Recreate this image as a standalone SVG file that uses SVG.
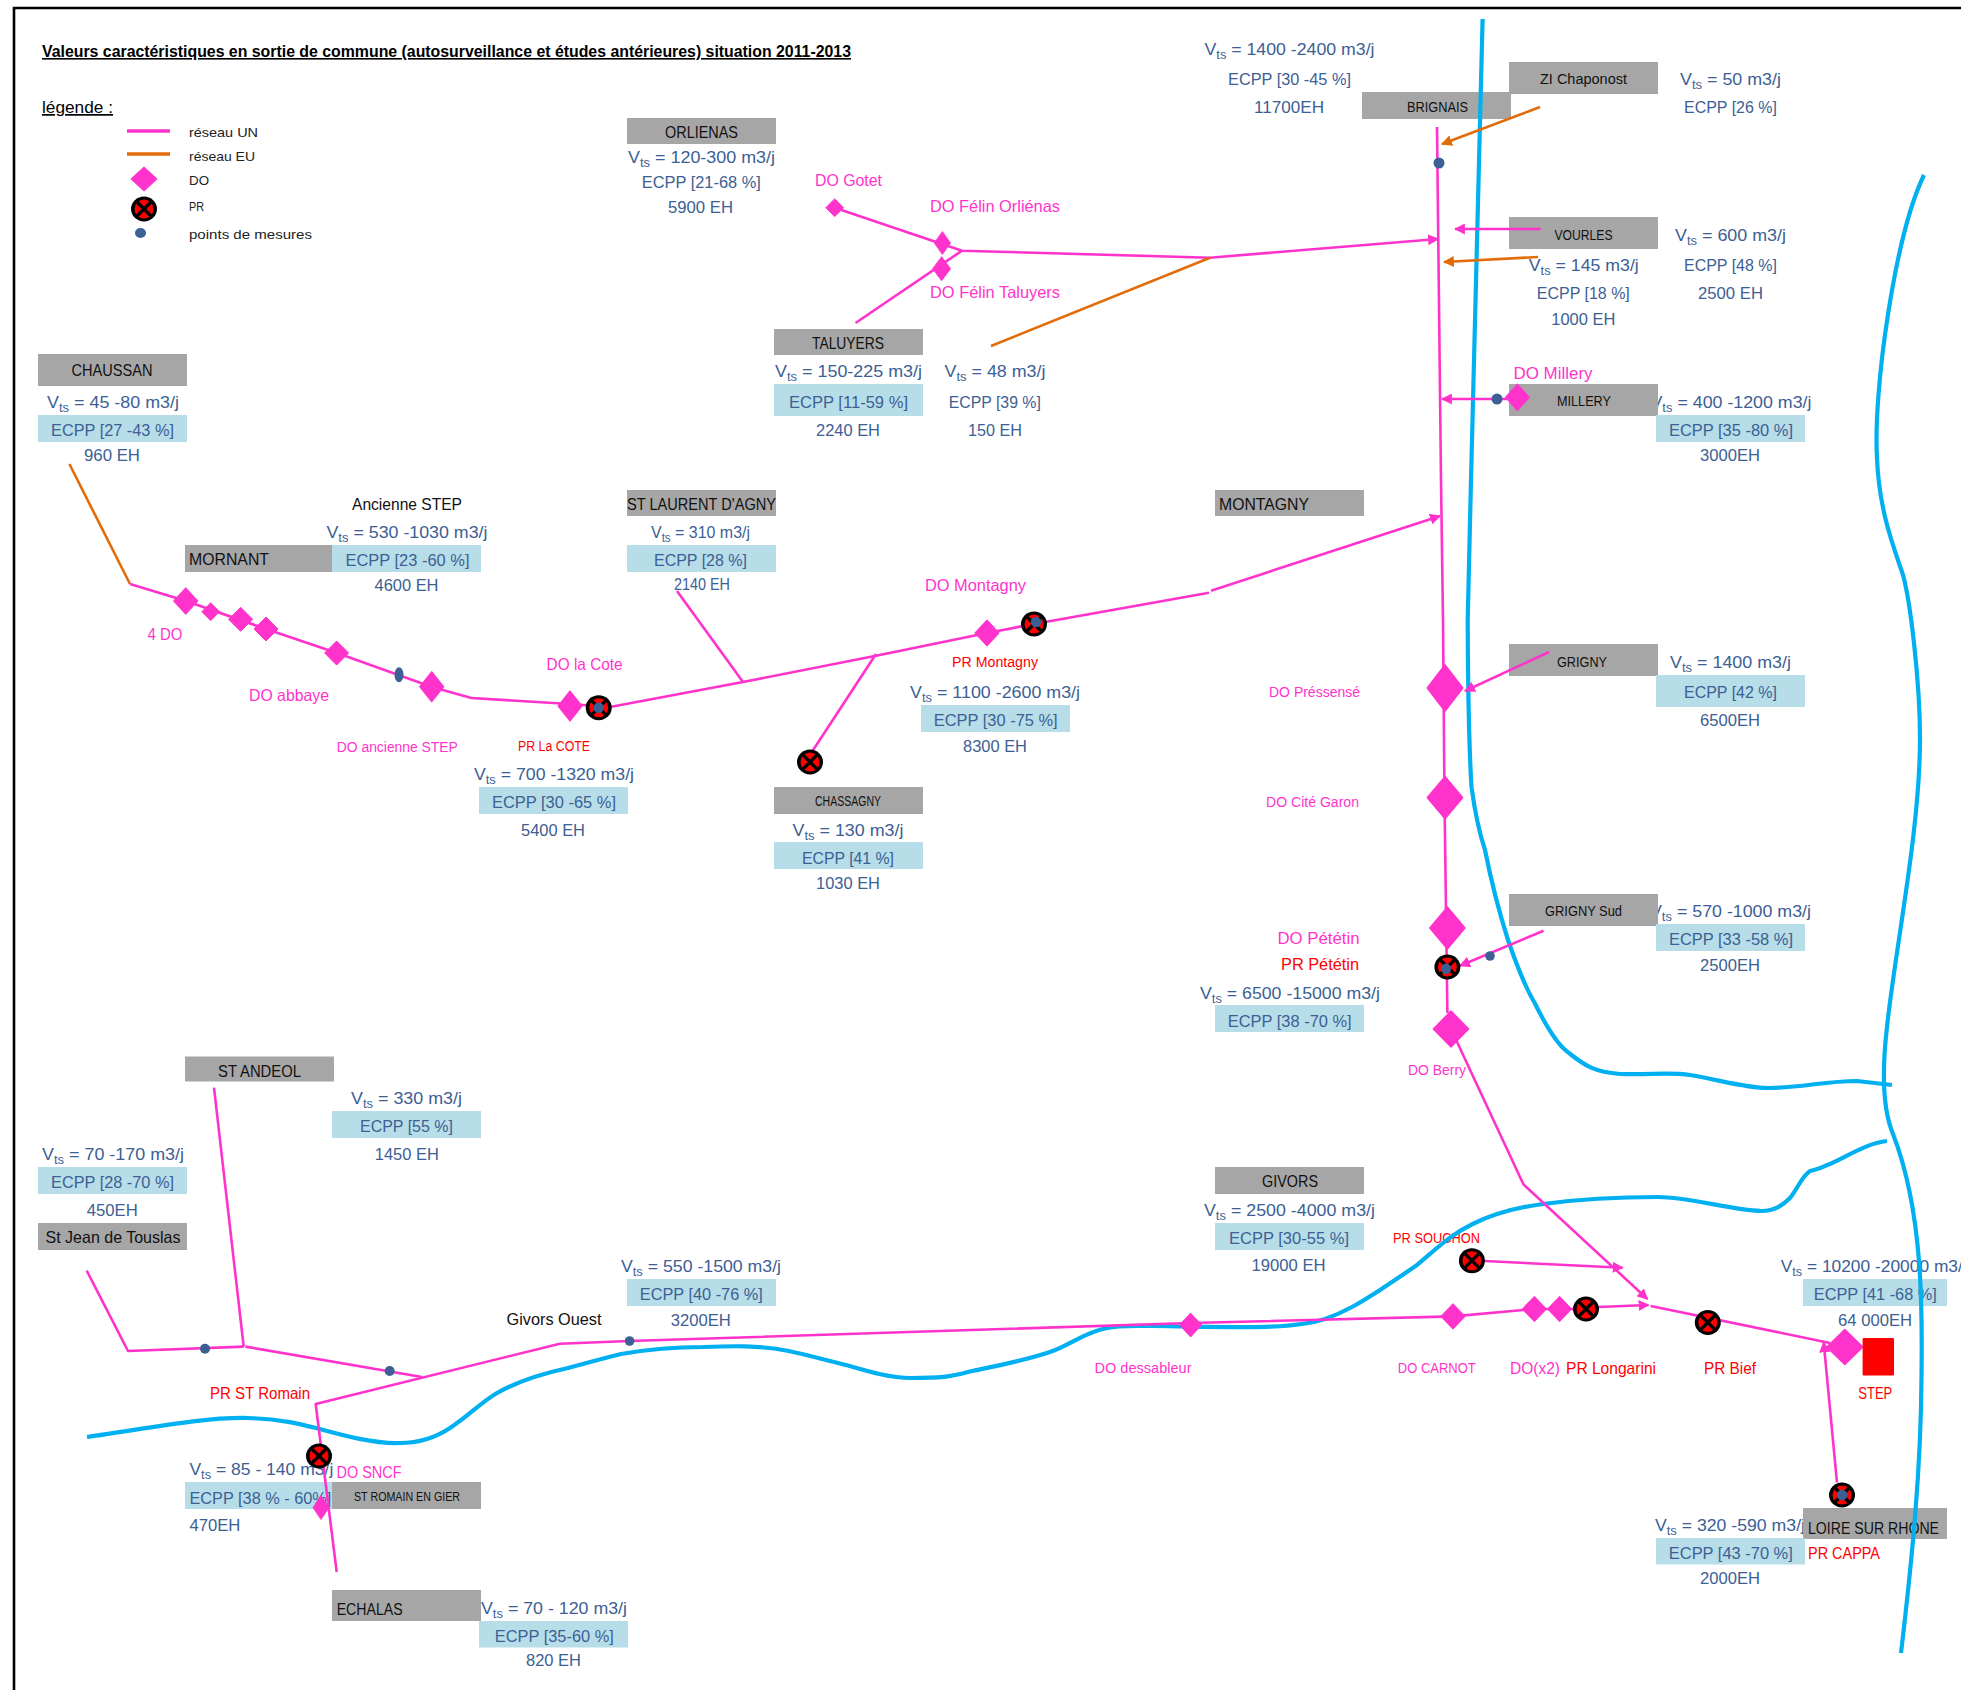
<svg xmlns="http://www.w3.org/2000/svg" width="1961" height="1690" viewBox="0 0 1961 1690">
<style>
text{font-family:"Liberation Sans",Arial,sans-serif;text-anchor:middle;font-size:16.5px}
.v{fill:#3C6094}
.k{fill:#111}
.m{fill:#FF33CC}
.r{fill:#FF0000}
.l{text-anchor:start}
.s{font-size:14px}
.lg{font-size:13px;fill:#222;text-anchor:start}
.g{fill:#A6A6A6}
.b{fill:#B7DDE8}
.sub{font-size:12px}
.un{fill:none;stroke:#FF33CC;stroke-width:2.6;stroke-linejoin:round}
.eu{fill:none;stroke:#E36C0A;stroke-width:2.6}
.riv{fill:none;stroke:#00B0F0;stroke-width:4.2;stroke-linecap:butt}
.do{fill:#FF33CC}
.pt{fill:#3C6094}
</style>
<defs>
<marker id="am" viewBox="0 0 10 10" refX="9" refY="5" markerUnits="userSpaceOnUse" markerWidth="11" markerHeight="11" orient="auto"><path d="M0 0L10 5L0 10z" fill="#FF33CC"/></marker>
<marker id="ao" viewBox="0 0 10 10" refX="9" refY="5" markerUnits="userSpaceOnUse" markerWidth="11" markerHeight="11" orient="auto"><path d="M0 0L10 5L0 10z" fill="#E36C0A"/></marker>
<polygon id="do" points="-12,0 0,-12 12,0 0,12" class="do" stroke="#FF33CC" stroke-width="1" stroke-linejoin="round"/>
<g id="pr"><ellipse rx="13" ry="12.5" fill="#000"/><circle r="9.5" fill="#FF0000"/><path d="M-7-7L7 7M7-7L-7 7" stroke="#000" stroke-width="3.2"/></g>
<g id="prd"><use href="#pr"/><circle r="5.2" fill="#3C6094"/></g>
</defs>
<g id="frame"><path d="M14 1690V8H1961" fill="none" stroke="#000" stroke-width="2.6"/></g>
<g id="title"><text class="l" x="42" y="57" font-weight="700" fill="#000" text-decoration="underline" textLength="809" lengthAdjust="spacingAndGlyphs" style="font-size:16px">Valeurs caractéristiques en sortie de commune (autosurveillance et études antérieures) situation 2011-2013</text></g>
<g id="legend">
<text class="l" x="42" y="113" fill="#000" text-decoration="underline" textLength="71" lengthAdjust="spacingAndGlyphs" style="font-size:17px">légende :</text>
<path d="M127 131H170" stroke="#FF33CC" stroke-width="3.5"/>
<path d="M127 154H170" stroke="#E36C0A" stroke-width="3.5"/>
<use href="#do" transform="translate(144 179) scale(1.08 1)"/>
<use href="#pr" x="144" y="209"/>
<ellipse class="pt" cx="140.500" cy="233" rx="5.500" ry="5"/>
<text class="lg" x="189" y="137" textLength="69" lengthAdjust="spacingAndGlyphs">réseau UN</text>
<text class="lg" x="189" y="161" textLength="66" lengthAdjust="spacingAndGlyphs">réseau EU</text>
<text class="lg" x="189" y="185" textLength="20" lengthAdjust="spacingAndGlyphs">DO</text>
<text class="lg" x="189" y="211" textLength="15" lengthAdjust="spacingAndGlyphs">PR</text>
<text class="lg" x="189" y="239" textLength="123" lengthAdjust="spacingAndGlyphs">points de mesures</text>
</g>

<g id="chaussan">
<rect class="g" x="38" y="354" width="149" height="32"/><rect class="b" x="38" y="415" width="149" height="27"/>
<text class="k" x="112" y="376" textLength="81" lengthAdjust="spacingAndGlyphs">CHAUSSAN</text>
<text class="v" x="113" y="408" textLength="132" lengthAdjust="spacingAndGlyphs">V<tspan class="sub" dy="4">ts</tspan><tspan dy="-4"> = 45 -80 m3/j</tspan></text>
<text class="v" x="112.500" y="436" textLength="123" lengthAdjust="spacingAndGlyphs">ECPP [27 -43 %]</text>
<text class="v" x="112" y="461" textLength="56" lengthAdjust="spacingAndGlyphs">960 EH</text>
</g>
<g id="mornant">
<rect class="g" x="185" y="545" width="147" height="27"/><rect class="b" x="332" y="545" width="149" height="27"/>
<text class="k l" x="189" y="565" textLength="80" lengthAdjust="spacingAndGlyphs">MORNANT</text>
<text class="k" x="407" y="509.700" textLength="110" lengthAdjust="spacingAndGlyphs">Ancienne STEP</text>
<text class="v" x="407" y="538" textLength="161" lengthAdjust="spacingAndGlyphs">V<tspan class="sub" dy="4">ts</tspan><tspan dy="-4"> = 530 -1030 m3/j</tspan></text>
<text class="v" x="407.500" y="565.500" textLength="124" lengthAdjust="spacingAndGlyphs">ECPP [23 -60 %]</text>
<text class="v" x="406.500" y="591" textLength="64" lengthAdjust="spacingAndGlyphs">4600 EH</text>
</g>
<g id="st-laurent">
<rect class="g" x="627" y="490" width="149" height="26"/><rect class="b" x="627" y="545" width="149" height="27"/>
<text class="k" x="701.500" y="509.700" textLength="149" lengthAdjust="spacingAndGlyphs">ST LAURENT D'AGNY</text>
<text class="v" x="700.500" y="537.700" textLength="99" lengthAdjust="spacingAndGlyphs">V<tspan class="sub" dy="4">ts</tspan><tspan dy="-4"> = 310 m3/j</tspan></text>
<text class="v" x="700.500" y="565.500" textLength="93" lengthAdjust="spacingAndGlyphs">ECPP [28 %]</text>
<text class="v" x="702" y="590" textLength="56" lengthAdjust="spacingAndGlyphs">2140 EH</text>
</g>
<g id="la-cote">
<rect class="b" x="479" y="787" width="149" height="27"/>
<text class="v" x="554" y="780" textLength="160" lengthAdjust="spacingAndGlyphs">V<tspan class="sub" dy="4">ts</tspan><tspan dy="-4"> = 700 -1320 m3/j</tspan></text>
<text class="v" x="554" y="808" textLength="124" lengthAdjust="spacingAndGlyphs">ECPP [30 -65 %]</text>
<text class="v" x="553" y="836" textLength="64" lengthAdjust="spacingAndGlyphs">5400 EH</text>
</g>
<g id="orlienas">
<rect class="g" x="627" y="118" width="149" height="26"/>
<text class="k" x="701.500" y="138" textLength="73" lengthAdjust="spacingAndGlyphs">ORLIENAS</text>
<text class="v" x="701.500" y="163" textLength="147" lengthAdjust="spacingAndGlyphs">V<tspan class="sub" dy="4">ts</tspan><tspan dy="-4"> = 120-300 m3/j</tspan></text>
<text class="v" x="701.300" y="187.500" textLength="119" lengthAdjust="spacingAndGlyphs">ECPP [21-68 %]</text>
<text class="v" x="700.500" y="213" textLength="65" lengthAdjust="spacingAndGlyphs">5900 EH</text>
</g>
<g id="taluyers">
<rect class="g" x="774" y="329" width="149" height="26"/><rect class="b" x="774" y="384" width="149" height="32"/>
<text class="k" x="848" y="349" textLength="72" lengthAdjust="spacingAndGlyphs">TALUYERS</text>
<text class="v" x="848.500" y="377" textLength="147" lengthAdjust="spacingAndGlyphs">V<tspan class="sub" dy="4">ts</tspan><tspan dy="-4"> = 150-225 m3/j</tspan></text>
<text class="v" x="848.500" y="408" textLength="119" lengthAdjust="spacingAndGlyphs">ECPP [11-59 %]</text>
<text class="v" x="848" y="436" textLength="64" lengthAdjust="spacingAndGlyphs">2240 EH</text>
<text class="v" x="995" y="377" textLength="101" lengthAdjust="spacingAndGlyphs">V<tspan class="sub" dy="4">ts</tspan><tspan dy="-4"> = 48 m3/j</tspan></text>
<text class="v" x="994.800" y="408" textLength="92" lengthAdjust="spacingAndGlyphs">ECPP [39 %]</text>
<text class="v" x="995" y="436" textLength="54" lengthAdjust="spacingAndGlyphs">150 EH</text>
</g>
<g id="montagny">
<rect class="g" x="1215" y="490" width="149" height="26"/><rect class="b" x="921" y="705" width="149" height="27"/>
<text class="k l" x="1219" y="510" textLength="90" lengthAdjust="spacingAndGlyphs">MONTAGNY</text>
<text class="v" x="995" y="698" textLength="170" lengthAdjust="spacingAndGlyphs">V<tspan class="sub" dy="4">ts</tspan><tspan dy="-4"> = 1100 -2600 m3/j</tspan></text>
<text class="v" x="995.700" y="726" textLength="124" lengthAdjust="spacingAndGlyphs">ECPP [30 -75 %]</text>
<text class="v" x="995" y="752" textLength="64" lengthAdjust="spacingAndGlyphs">8300 EH</text>
</g>
<g id="chassagny">
<rect class="g" x="774" y="787" width="149" height="27"/><rect class="b" x="774" y="842" width="149" height="27"/>
<text class="k s" x="848" y="806" textLength="66" lengthAdjust="spacingAndGlyphs">CHASSAGNY</text>
<text class="v" x="848" y="836" textLength="111" lengthAdjust="spacingAndGlyphs">V<tspan class="sub" dy="4">ts</tspan><tspan dy="-4"> = 130 m3/j</tspan></text>
<text class="v" x="848" y="864" textLength="92" lengthAdjust="spacingAndGlyphs">ECPP [41 %]</text>
<text class="v" x="848" y="889" textLength="64" lengthAdjust="spacingAndGlyphs">1030 EH</text>
</g>
<g id="brignais">
<rect class="g" x="1362" y="92" width="149" height="27"/>
<text class="v" x="1289.500" y="55" textLength="170" lengthAdjust="spacingAndGlyphs">V<tspan class="sub" dy="4">ts</tspan><tspan dy="-4"> = 1400 -2400 m3/j</tspan></text>
<text class="v" x="1289.500" y="84.500" textLength="123" lengthAdjust="spacingAndGlyphs">ECPP [30 -45 %]</text>
<text class="v" x="1289" y="113" textLength="70" lengthAdjust="spacingAndGlyphs">11700EH</text>
<text class="k s" x="1437.500" y="111.700" textLength="61" lengthAdjust="spacingAndGlyphs">BRIGNAIS</text>
</g>
<g id="zi-chaponost">
<rect class="g" x="1509" y="62" width="149" height="32"/>
<text class="k s" x="1583.500" y="84" textLength="87" lengthAdjust="spacingAndGlyphs">ZI Chaponost</text>
<text class="v" x="1730.500" y="85" textLength="101" lengthAdjust="spacingAndGlyphs">V<tspan class="sub" dy="4">ts</tspan><tspan dy="-4"> = 50 m3/j</tspan></text>
<text class="v" x="1730.500" y="113" textLength="93" lengthAdjust="spacingAndGlyphs">ECPP [26 %]</text>
</g>
<g id="vourles">
<rect class="g" x="1509" y="217" width="149" height="32"/>
<text class="k s" x="1583.500" y="240" textLength="58" lengthAdjust="spacingAndGlyphs">VOURLES</text>
<text class="v" x="1730.500" y="241" textLength="111" lengthAdjust="spacingAndGlyphs">V<tspan class="sub" dy="4">ts</tspan><tspan dy="-4"> = 600 m3/j</tspan></text>
<text class="v" x="1730.500" y="271" textLength="93" lengthAdjust="spacingAndGlyphs">ECPP [48 %]</text>
<text class="v" x="1730.500" y="299" textLength="65" lengthAdjust="spacingAndGlyphs">2500 EH</text>
<text class="v" x="1583.800" y="271" textLength="110" lengthAdjust="spacingAndGlyphs">V<tspan class="sub" dy="4">ts</tspan><tspan dy="-4"> = 145 m3/j</tspan></text>
<text class="v" x="1583.300" y="299" textLength="93" lengthAdjust="spacingAndGlyphs">ECPP [18 %]</text>
<text class="v" x="1583.300" y="325" textLength="64" lengthAdjust="spacingAndGlyphs">1000 EH</text>
</g>
<g id="millery">
<text class="v" x="1731" y="408" textLength="161" lengthAdjust="spacingAndGlyphs">V<tspan class="sub" dy="4">ts</tspan><tspan dy="-4"> = 400 -1200 m3/j</tspan></text>
<rect class="g" x="1509" y="384" width="149" height="32"/><rect class="b" x="1656" y="415" width="149" height="27"/>
<text class="k s" x="1584" y="406" textLength="54" lengthAdjust="spacingAndGlyphs">MILLERY</text>
<text class="v" x="1731" y="436" textLength="124" lengthAdjust="spacingAndGlyphs">ECPP [35 -80 %]</text>
<text class="v" x="1730" y="461" textLength="60" lengthAdjust="spacingAndGlyphs">3000EH</text>
</g>
<g id="grigny">
<rect class="g" x="1509" y="644" width="149" height="32"/><rect class="b" x="1656" y="675" width="149" height="32"/>
<text class="k s" x="1582" y="667" textLength="50" lengthAdjust="spacingAndGlyphs">GRIGNY</text>
<text class="v" x="1730.500" y="668" textLength="121" lengthAdjust="spacingAndGlyphs">V<tspan class="sub" dy="4">ts</tspan><tspan dy="-4"> = 1400 m3/j</tspan></text>
<text class="v" x="1730.500" y="698" textLength="93" lengthAdjust="spacingAndGlyphs">ECPP [42 %]</text>
<text class="v" x="1730" y="726" textLength="60" lengthAdjust="spacingAndGlyphs">6500EH</text>
</g>
<g id="grigny-sud">
<text class="v" x="1730.500" y="917" textLength="161" lengthAdjust="spacingAndGlyphs">V<tspan class="sub" dy="4">ts</tspan><tspan dy="-4"> = 570 -1000 m3/j</tspan></text>
<rect class="g" x="1509" y="894" width="149" height="32"/><rect class="b" x="1656" y="924" width="149" height="27"/>
<text class="k s" x="1583.500" y="916" textLength="77" lengthAdjust="spacingAndGlyphs">GRIGNY Sud</text>
<text class="v" x="1731" y="945" textLength="124" lengthAdjust="spacingAndGlyphs">ECPP [33 -58 %]</text>
<text class="v" x="1730" y="970.700" textLength="60" lengthAdjust="spacingAndGlyphs">2500EH</text>
</g>
<g id="petetin-data">
<rect class="b" x="1215" y="1005" width="149" height="27"/>
<text class="v" x="1290" y="999" textLength="180" lengthAdjust="spacingAndGlyphs">V<tspan class="sub" dy="4">ts</tspan><tspan dy="-4"> = 6500 -15000 m3/j</tspan></text>
<text class="v" x="1289.700" y="1027" textLength="124" lengthAdjust="spacingAndGlyphs">ECPP [38 -70 %]</text>
</g>
<g id="givors">
<rect class="g" x="1215" y="1167" width="149" height="27"/><rect class="b" x="1215" y="1223" width="149" height="27"/>
<text class="k" x="1290" y="1187" textLength="56" lengthAdjust="spacingAndGlyphs">GIVORS</text>
<text class="v" x="1289.500" y="1216" textLength="171" lengthAdjust="spacingAndGlyphs">V<tspan class="sub" dy="4">ts</tspan><tspan dy="-4"> = 2500 -4000 m3/j</tspan></text>
<text class="v" x="1289" y="1243.500" textLength="120" lengthAdjust="spacingAndGlyphs">ECPP [30-55 %]</text>
<text class="v" x="1288.500" y="1271" textLength="74" lengthAdjust="spacingAndGlyphs">19000 EH</text>
</g>
<g id="givors-ouest">
<rect class="b" x="627" y="1279" width="149" height="27"/>
<text class="k" x="554" y="1325" textLength="95" lengthAdjust="spacingAndGlyphs">Givors Ouest</text>
<text class="v" x="701" y="1272" textLength="160" lengthAdjust="spacingAndGlyphs">V<tspan class="sub" dy="4">ts</tspan><tspan dy="-4"> = 550 -1500 m3/j</tspan></text>
<text class="v" x="701.300" y="1300" textLength="123" lengthAdjust="spacingAndGlyphs">ECPP [40 -76 %]</text>
<text class="v" x="700.800" y="1326" textLength="60" lengthAdjust="spacingAndGlyphs">3200EH</text>
</g>
<g id="st-andeol">
<rect class="g" x="185" y="1056.500" width="149" height="25"/><rect class="b" x="332" y="1111" width="149" height="27"/>
<text class="k" x="259.500" y="1077" textLength="83" lengthAdjust="spacingAndGlyphs">ST ANDEOL</text>
<text class="v" x="406.500" y="1104" textLength="111" lengthAdjust="spacingAndGlyphs">V<tspan class="sub" dy="4">ts</tspan><tspan dy="-4"> = 330 m3/j</tspan></text>
<text class="v" x="406.500" y="1132" textLength="93" lengthAdjust="spacingAndGlyphs">ECPP [55 %]</text>
<text class="v" x="406.800" y="1160" textLength="64" lengthAdjust="spacingAndGlyphs">1450 EH</text>
</g>
<g id="st-jean">
<rect class="b" x="38" y="1167" width="149" height="27"/><rect class="g" x="38" y="1223" width="149" height="27"/>
<text class="v" x="113" y="1160" textLength="142" lengthAdjust="spacingAndGlyphs">V<tspan class="sub" dy="4">ts</tspan><tspan dy="-4"> = 70 -170 m3/j</tspan></text>
<text class="v" x="112.500" y="1188" textLength="123" lengthAdjust="spacingAndGlyphs">ECPP [28 -70 %]</text>
<text class="v" x="112.300" y="1216" textLength="51" lengthAdjust="spacingAndGlyphs">450EH</text>
<text class="k" x="113" y="1243" textLength="135" lengthAdjust="spacingAndGlyphs">St Jean de Touslas</text>
</g>
<g id="st-romain">
<rect class="b" x="185" y="1482" width="147" height="27"/><rect class="g" x="332" y="1482" width="149" height="27"/>
<text class="v l" x="189.400" y="1475" textLength="144" lengthAdjust="spacingAndGlyphs">V<tspan class="sub" dy="4">ts</tspan><tspan dy="-4"> = 85 - 140 m3/j</tspan></text>
<text class="v l" x="189.400" y="1503.500" textLength="142" lengthAdjust="spacingAndGlyphs">ECPP [38 % - 60%]</text>
<text class="v l" x="189.400" y="1531" textLength="51" lengthAdjust="spacingAndGlyphs">470EH</text>
<text class="k" x="407" y="1501" textLength="106" lengthAdjust="spacingAndGlyphs" style="font-size:13px">ST ROMAIN EN GIER</text>
</g>
<g id="echalas">
<rect class="g" x="332" y="1590" width="149" height="31"/><rect class="b" x="479" y="1621" width="149" height="26.500"/>
<text class="k l" x="336.700" y="1615" textLength="66" lengthAdjust="spacingAndGlyphs">ECHALAS</text>
<text class="v" x="554" y="1613.500" textLength="146" lengthAdjust="spacingAndGlyphs">V<tspan class="sub" dy="4">ts</tspan><tspan dy="-4"> = 70 - 120 m3/j</tspan></text>
<text class="v" x="554.300" y="1641.500" textLength="119" lengthAdjust="spacingAndGlyphs">ECPP [35-60 %]</text>
<text class="v" x="553.500" y="1665.500" textLength="55" lengthAdjust="spacingAndGlyphs">820 EH</text>
</g>
<g id="step-data">
<rect class="b" x="1803" y="1279" width="144" height="27"/>
<text class="v l" x="1780.700" y="1272" textLength="186" lengthAdjust="spacingAndGlyphs">V<tspan class="sub" dy="4">ts</tspan><tspan dy="-4"> = 10200 -20000 m3/j</tspan></text>
<text class="v" x="1875.300" y="1300" textLength="123" lengthAdjust="spacingAndGlyphs">ECPP [41 -68 %]</text>
<text class="v" x="1875" y="1325.500" textLength="74" lengthAdjust="spacingAndGlyphs">64 000EH</text>
</g>
<g id="loire">
<text class="v" x="1730" y="1531" textLength="150" lengthAdjust="spacingAndGlyphs">V<tspan class="sub" dy="4">ts</tspan><tspan dy="-4"> = 320 -590 m3/j</tspan></text>
<rect class="g" x="1803" y="1508" width="144" height="31"/><rect class="b" x="1656" y="1538" width="149" height="26.500"/>
<text class="k" x="1873.500" y="1534" textLength="131" lengthAdjust="spacingAndGlyphs">LOIRE SUR RHONE</text>
<text class="v" x="1730.800" y="1558.700" textLength="124" lengthAdjust="spacingAndGlyphs">ECPP [43 -70 %]</text>
<text class="v" x="1730" y="1584" textLength="60" lengthAdjust="spacingAndGlyphs">2000EH</text>
</g>

<g id="labels">
<text class="m" x="165" y="640" textLength="35" lengthAdjust="spacingAndGlyphs">4 DO</text>
<text class="m" x="289" y="701" textLength="80" lengthAdjust="spacingAndGlyphs">DO abbaye</text>
<text class="m s" x="397.300" y="752" textLength="121" lengthAdjust="spacingAndGlyphs">DO ancienne STEP</text>
<text class="m" x="584.600" y="670" textLength="76" lengthAdjust="spacingAndGlyphs">DO la Cote</text>
<text class="r s" x="554" y="751" textLength="72" lengthAdjust="spacingAndGlyphs">PR La COTE</text>
<text class="m" x="848.500" y="186" textLength="67" lengthAdjust="spacingAndGlyphs">DO Gotet</text>
<text class="m" x="995" y="212" textLength="130" lengthAdjust="spacingAndGlyphs">DO Félin Orliénas</text>
<text class="m" x="995" y="298" textLength="130" lengthAdjust="spacingAndGlyphs">DO Félin Taluyers</text>
<text class="m" x="975.500" y="591" textLength="101" lengthAdjust="spacingAndGlyphs">DO Montagny</text>
<text class="r s" x="995" y="667" textLength="86" lengthAdjust="spacingAndGlyphs">PR Montagny</text>
<text class="m s" x="1314.500" y="697" textLength="91" lengthAdjust="spacingAndGlyphs">DO Préssensé</text>
<text class="m s" x="1312.500" y="807" textLength="93" lengthAdjust="spacingAndGlyphs">DO Cité Garon</text>
<text class="m" x="1553" y="379" textLength="79" lengthAdjust="spacingAndGlyphs">DO Millery</text>
<text class="m" x="1318.500" y="943.500" textLength="82" lengthAdjust="spacingAndGlyphs">DO Pététin</text>
<text class="r" x="1320" y="970" textLength="78" lengthAdjust="spacingAndGlyphs">PR Pététin</text>
<text class="m s" x="1437" y="1075" textLength="58" lengthAdjust="spacingAndGlyphs">DO Berry</text>
<text class="r s" x="1436.500" y="1243" textLength="87" lengthAdjust="spacingAndGlyphs">PR SOUCHON</text>
<text class="m s" x="1143" y="1372.700" textLength="97" lengthAdjust="spacingAndGlyphs">DO dessableur</text>
<text class="m s" x="1436.800" y="1373" textLength="78" lengthAdjust="spacingAndGlyphs">DO CARNOT</text>
<text class="m" x="1535" y="1374" textLength="50" lengthAdjust="spacingAndGlyphs">DO(x2)</text>
<text class="r" x="1611" y="1374" textLength="90" lengthAdjust="spacingAndGlyphs">PR Longarini</text>
<text class="r" x="1730" y="1374" textLength="52" lengthAdjust="spacingAndGlyphs">PR Bief</text>
<text class="r" x="1875.300" y="1398.500" textLength="34" lengthAdjust="spacingAndGlyphs">STEP</text>
<text class="r" x="1844" y="1558.700" textLength="72" lengthAdjust="spacingAndGlyphs">PR CAPPA</text>
<text class="r" x="260" y="1399" textLength="100" lengthAdjust="spacingAndGlyphs">PR ST Romain</text>
<text class="m" x="369" y="1478" textLength="65" lengthAdjust="spacingAndGlyphs">DO SNCF</text>
</g>

<g id="rivers">
<path class="riv" d="M1482.600 19L1471 480L1467.700 620C1468 680 1468 730 1471.500 787C1476 820 1480 835 1485 850C1492 885 1500 915 1508 940C1520 975 1527 990 1534.700 1003C1548 1030 1560 1047 1569 1053C1585 1066 1595 1072 1620 1074C1650 1075 1670 1072 1690 1075C1720 1080 1745 1088 1768 1088C1800 1088 1825 1081 1857 1081L1892 1085"/>
<path class="riv" d="M1924 175C1895 235 1873 390 1877 458C1879 510 1893 545 1903 575C1910 600 1920 680 1920 739C1920 830 1895 950 1887 1027C1882 1070 1883 1110 1893 1134C1905 1165 1915 1210 1919 1261C1922 1300 1922 1340 1921.500 1376C1921 1470 1912 1560 1901 1653"/>
<path class="riv" d="M87 1437C140 1430 200 1417 248 1418C280 1419 300 1424 316 1428C345 1436 375 1444 400 1443C420 1443 435 1438 450 1428C470 1415 480 1403 497 1393C520 1380 545 1373 568 1368C590 1362 605 1358 621 1354C650 1349 680 1347 703 1347C730 1346 760 1345 788.600 1351C808 1355 825 1360 846 1365C870 1372 890 1378 911 1378C940 1378 950 1377 968 1372C990 1367 1020 1362 1050 1352C1070 1345 1085 1332 1107 1328C1120 1325 1140 1326 1152 1326C1240 1327 1290 1330 1325 1319C1345 1312 1360 1303 1380 1290C1395 1280 1410 1270 1417 1265C1435 1250 1450 1235 1472.600 1224C1495 1213 1520 1207 1543 1204C1580 1199 1620 1197 1658 1197C1690 1197 1730 1210 1761.500 1211C1775 1211 1783 1205 1790 1198C1798 1188 1802 1176 1810 1171C1835 1166 1860 1144 1887 1141"/>
</g>

<g id="connectors">
<path class="eu" d="M69.400 464L130 584"/>
<path class="un" d="M130 584L186 601L266 629L337 653L432 687L471.400 698L570 704L610 707L743 682L876 655.700L987 633L1034 624L1209 592.700"/>
<path class="un" d="M1211 590.700L1440 516" marker-end="url(#am)"/>
<path class="un" d="M677 591L743 682"/>
<path class="un" d="M876 654L812 751.700"/>
<path class="un" d="M834.700 207.700L962 250.700L1210 257.700L1438 239" marker-end="url(#am)"/>
<path class="un" d="M855.500 323L962 250.700"/>
<path class="eu" d="M991 346L1210 257.700"/>
<path class="eu" d="M1540 107L1442 144" marker-end="url(#ao)"/>
<path class="un" d="M1437 127L1441 480L1443 620L1444.500 800L1447.400 1013"/>
<path class="un" d="M1540.600 229H1455" marker-end="url(#am)"/>
<path class="eu" d="M1538 257L1444 262" marker-end="url(#ao)"/>
<path class="un" d="M1507 399H1442" marker-end="url(#am)"/>
<path class="un" d="M1549 652L1465 691" marker-end="url(#am)"/>
<path class="un" d="M1543.500 930.700L1460 965.700" marker-end="url(#am)"/>
<path class="un" d="M1451 1029L1523.500 1184.500L1647.400 1299" marker-end="url(#am)"/>
<path class="un" d="M1484.400 1261L1622.600 1267.800" marker-end="url(#am)"/>
<path class="un" d="M86.700 1270.700L128 1351L243.700 1346.600"/>
<path class="un" d="M214 1087.700L243.700 1346.600"/>
<path class="un" d="M245.400 1346.600L422 1377"/>
<path class="un" d="M336.700 1572L315.700 1404L559.800 1343.700L629.600 1341L1190.600 1323L1453 1316.400L1534.400 1309L1586 1309"/>
<path class="un" d="M1598.500 1307L1648.500 1305" marker-end="url(#am)"/>
<path class="un" d="M1650.700 1306L1830 1343"/>
<path class="un" d="M1837 1482.600L1823.700 1342.400" marker-end="url(#am)"/>
</g>

<g id="do-4a"><use href="#do" transform="translate(185.700 601) scale(1 1.1)"/></g>
<g id="do-4b"><use href="#do" transform="translate(210.700 611.700) scale(.75 .75)"/></g>
<g id="do-4c"><use href="#do" transform="translate(240.600 619.300)"/></g>
<g id="do-4d"><use href="#do" transform="translate(266 629)"/></g>
<g id="do-abbaye"><use href="#do" transform="translate(336.600 653)"/></g>
<g id="do-ancienne-step"><use href="#do" transform="translate(431.700 686.700) scale(1 1.25)"/></g>
<g id="do-la-cote"><use href="#do" transform="translate(570 706) scale(1 1.25)"/></g>
<g id="pr-la-cote"><use href="#prd" x="598.700" y="707.700"/></g>
<g id="do-gotet"><use href="#do" transform="translate(834.700 207.700) scale(.75 .75)"/></g>
<g id="do-felin-orlienas"><use href="#do" transform="translate(942.400 243) scale(.68 .96)"/></g>
<g id="do-felin-taluyers"><use href="#do" transform="translate(941.600 268.700) scale(.75 1)"/></g>
<g id="do-montagny"><use href="#do" transform="translate(987 633) scale(1 1.08)"/></g>
<g id="pr-montagny"><use href="#pr" x="1034" y="624"/><circle class="pt" cx="1036" cy="622" r="5.200"/></g>
<g id="pr-chassagny"><use href="#pr" x="810" y="762"/></g>
<g id="pt-brignais"><circle class="pt" cx="1439" cy="163" r="5.500"/></g>
<g id="pt-mornant"><ellipse class="pt" cx="399" cy="674.700" rx="4.500" ry="7.500"/></g>
<g id="pt-millery"><circle class="pt" cx="1497" cy="399" r="5.500"/></g>
<g id="do-millery"><use href="#do" transform="translate(1517.400 397.300) scale(1 1.1)"/></g>
<g id="do-pressense"><use href="#do" transform="translate(1445 688) scale(1.47 1.92)"/></g>
<g id="do-cite-garon"><use href="#do" transform="translate(1445 797.700) scale(1.47 1.75)"/></g>
<g id="do-petetin"><use href="#do" transform="translate(1447.400 928) scale(1.47 1.75)"/></g>
<g id="pr-petetin"><use href="#pr" x="1447.400" y="967"/><circle class="pt" cx="1446" cy="968.700" r="5.200"/></g>
<g id="pt-grigny-sud"><circle class="pt" cx="1490" cy="956" r="4.800"/></g>
<g id="do-berry"><use href="#do" transform="translate(1451 1029) scale(1.47 1.5)"/></g>
<g id="pr-souchon"><use href="#pr" x="1471.900" y="1260.700"/></g>
<g id="do-dessableur"><use href="#do" transform="translate(1190.600 1325) scale(.92 1)"/></g>
<g id="do-carnot"><use href="#do" transform="translate(1453 1316.400) scale(1 1.04)"/></g>
<g id="do-x2a"><use href="#do" transform="translate(1534.400 1309) scale(1 1.04)"/></g>
<g id="do-x2b"><use href="#do" transform="translate(1559.600 1309) scale(1 1.04)"/></g>
<g id="pr-longarini"><use href="#pr" x="1586" y="1309"/></g>
<g id="pr-bief"><use href="#pr" x="1707.800" y="1322.500"/></g>
<g id="do-step"><use href="#do" transform="translate(1844.800 1347) scale(1.5 1.46)"/></g>
<g id="step"><rect x="1862.600" y="1338" width="31.400" height="37.500" rx="1" fill="#FF0000"/></g>
<g id="pr-cappa"><use href="#prd" x="1842" y="1495"/></g>
<g id="pt-st-jean"><circle class="pt" cx="205" cy="1348.700" r="5"/></g>
<g id="pt-st-andeol"><circle class="pt" cx="389.700" cy="1371" r="5"/></g>
<g id="pt-givors-ouest"><circle class="pt" cx="629.600" cy="1341" r="4.800"/></g>
<g id="pr-st-romain"><use href="#pr" x="319" y="1456"/></g>
<g id="do-sncf"><use href="#do" transform="translate(321 1507.600) scale(.67 1)"/></g>
</svg>
